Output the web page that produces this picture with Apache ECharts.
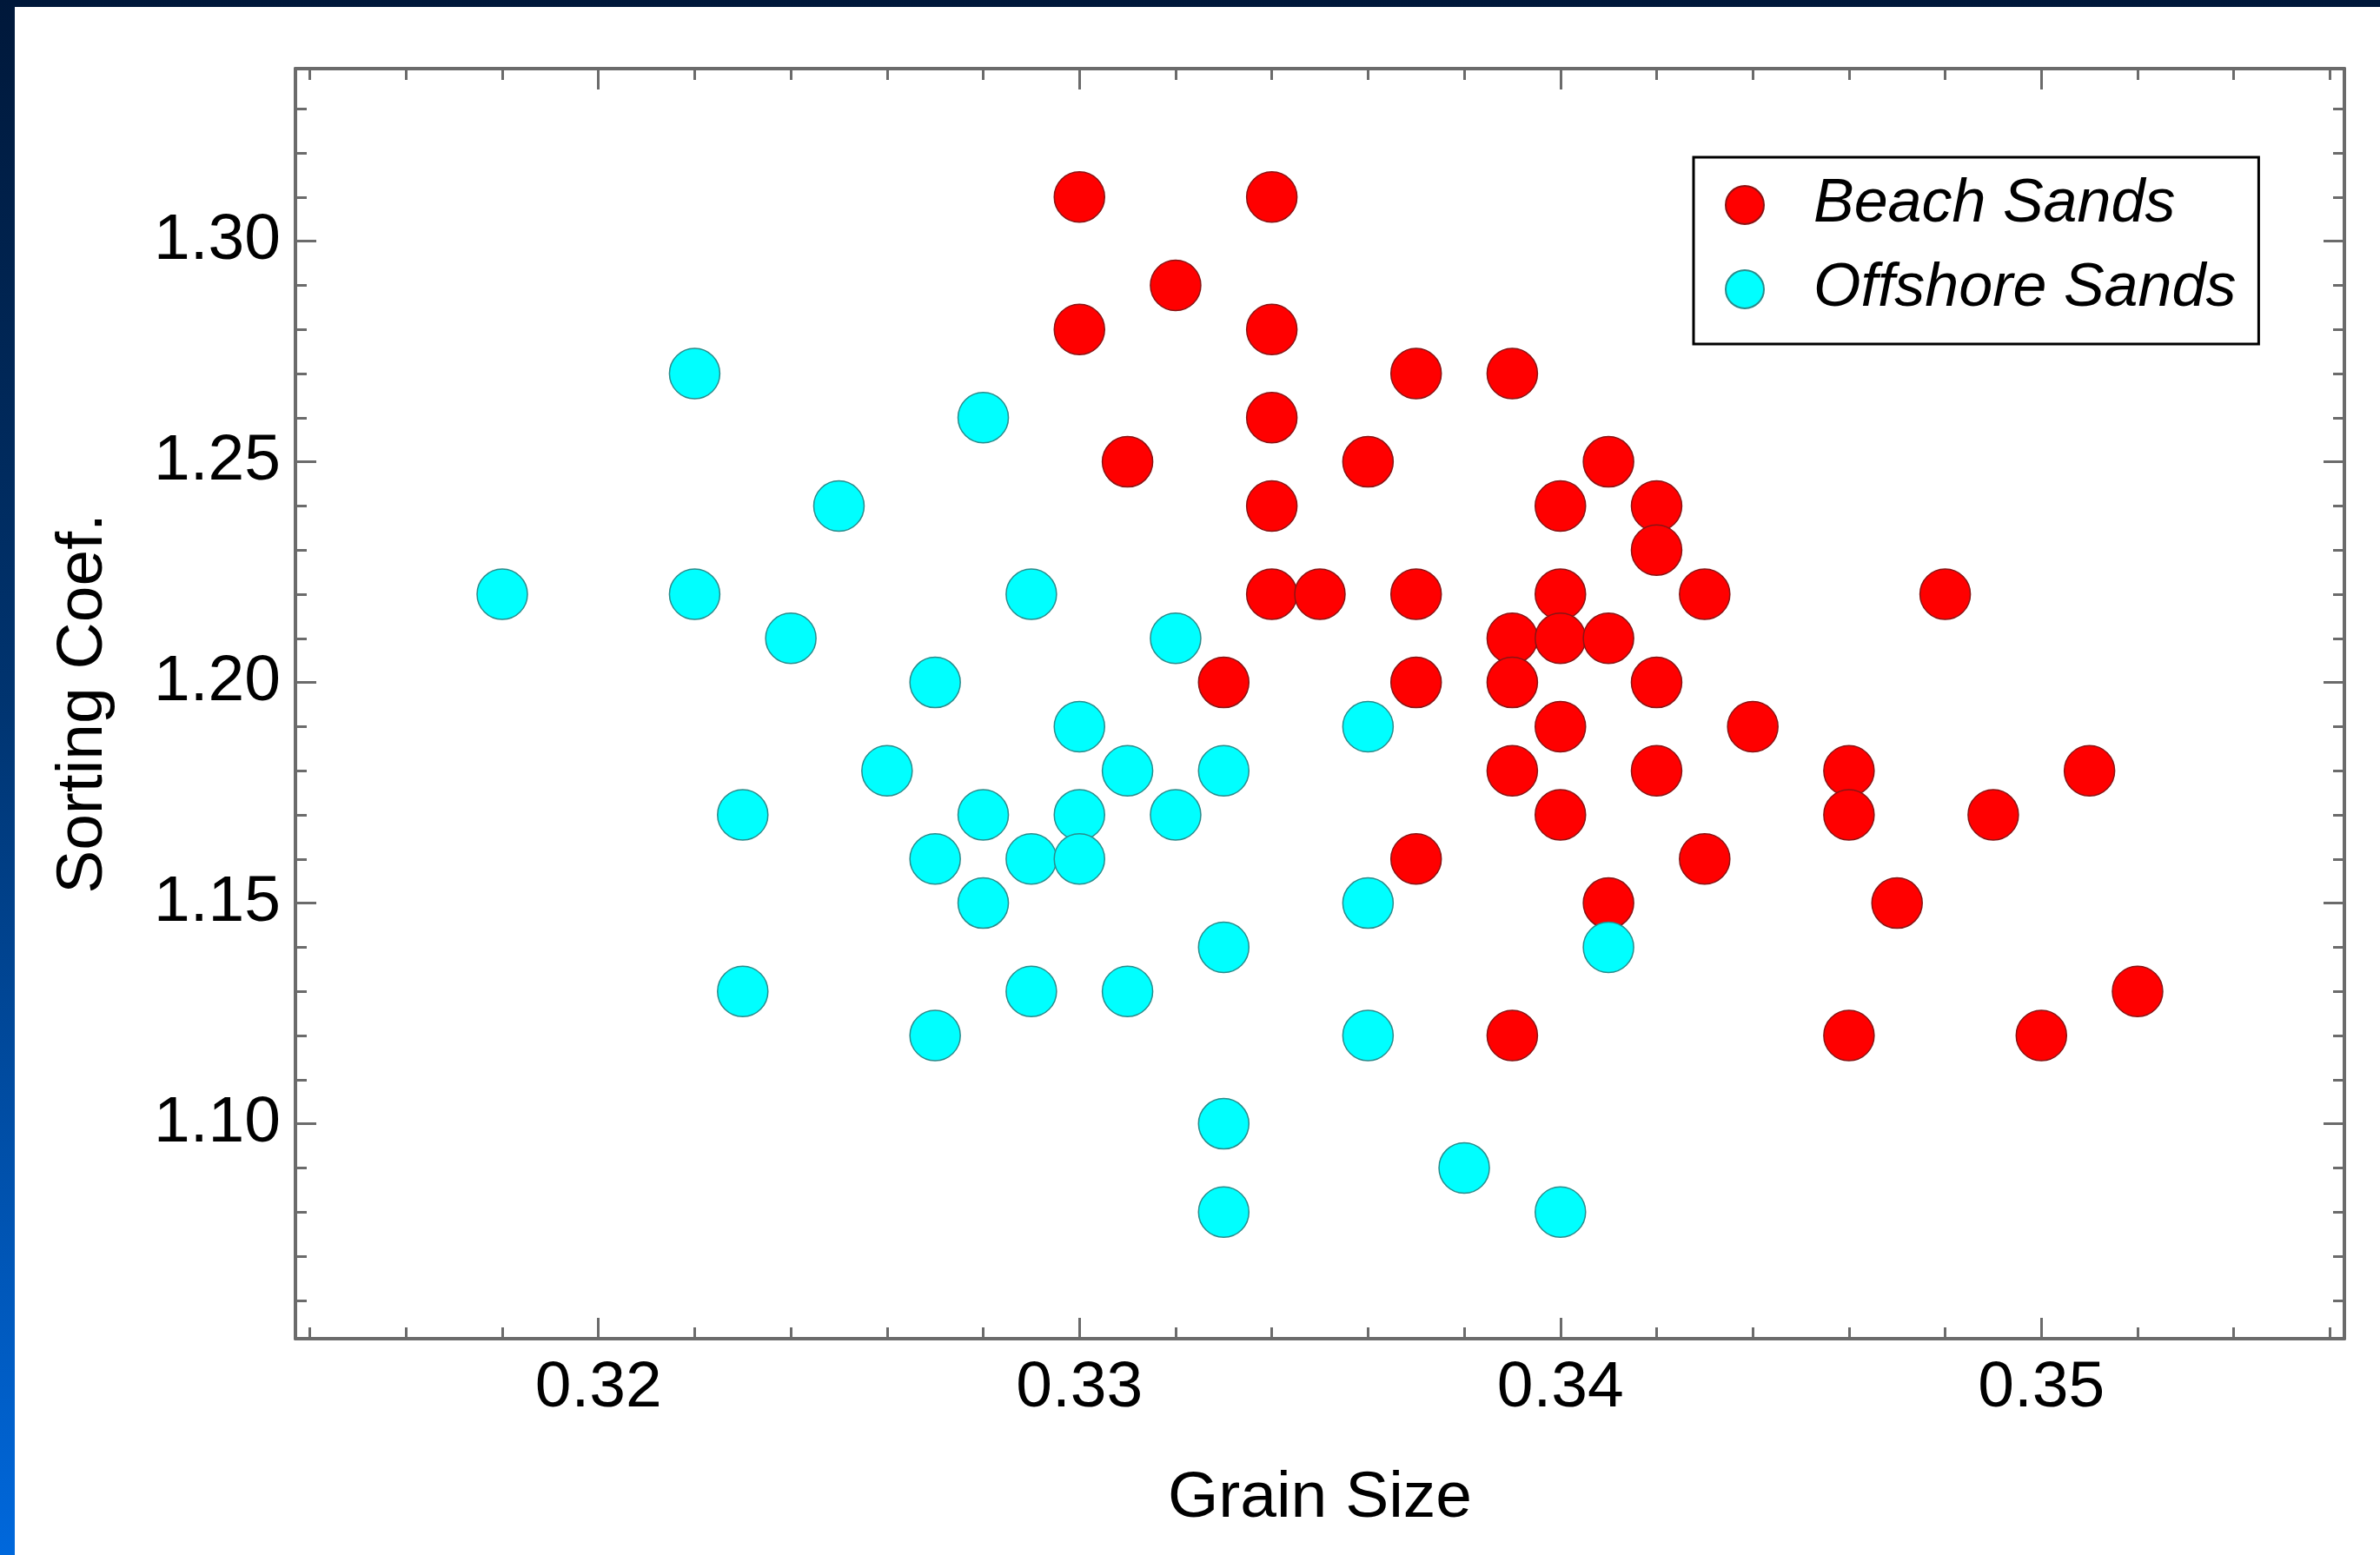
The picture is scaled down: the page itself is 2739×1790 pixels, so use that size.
<!DOCTYPE html>
<html>
<head>
<meta charset="utf-8">
<script src="https://cdn.jsdelivr.net/npm/echarts@6/dist/echarts.min.js"></script>
<style>
  html, body { margin: 0; padding: 0; width: 2739px; height: 1790px; overflow: hidden; }
  body { background: linear-gradient(180deg, #00183a 0%, #003470 45%, #0068dc 100%); position: relative; }
  #panel { position: absolute; left: 17px; top: 8px; right: 0; bottom: 0; background: #ffffff; }
  #chart { position: absolute; left: 0; top: 0; width: 2739px; height: 1790px; }
</style>
</head>
<body>
<div id="panel"></div>
<div id="chart"></div>
<script>
// Beach Sands (red)
const beachX = [0.330, 0.334, 0.332, 0.330, 0.334, 0.337, 0.339, 0.334, 0.331, 0.336, 0.341,
    0.334, 0.340, 0.342, 0.342, 0.334, 0.335, 0.337, 0.340, 0.343, 0.348, 0.339, 0.340, 0.341,
    0.333, 0.337, 0.339, 0.342, 0.340, 0.344, 0.339, 0.342, 0.346, 0.351, 0.340, 0.346, 0.349,
    0.337, 0.343, 0.341, 0.347, 0.352, 0.339, 0.346, 0.350];
const beachY = [1.31, 1.31, 1.29, 1.28, 1.28, 1.27, 1.27, 1.26, 1.25, 1.25, 1.25,
    1.24, 1.24, 1.24, 1.23, 1.22, 1.22, 1.22, 1.22, 1.22, 1.22, 1.21, 1.21, 1.21,
    1.20, 1.20, 1.20, 1.20, 1.19, 1.19, 1.18, 1.18, 1.18, 1.18, 1.17, 1.17, 1.17,
    1.16, 1.16, 1.15, 1.15, 1.13, 1.12, 1.12, 1.12];

// Offshore Sands (cyan)
const offshoreX = [0.322, 0.328, 0.325, 0.318, 0.322, 0.329, 0.324, 0.332, 0.327, 0.330,
    0.336, 0.326, 0.331, 0.333, 0.323, 0.328, 0.330, 0.332, 0.327, 0.329, 0.330, 0.328,
    0.336, 0.333, 0.341, 0.323, 0.329, 0.331, 0.327, 0.336, 0.333, 0.338, 0.333, 0.340];
const offshoreY = [1.27, 1.26, 1.24, 1.22, 1.22, 1.22, 1.21, 1.21, 1.20, 1.19,
    1.19, 1.18, 1.18, 1.18, 1.17, 1.17, 1.17, 1.17, 1.16, 1.16, 1.16, 1.15,
    1.15, 1.14, 1.14, 1.13, 1.13, 1.13, 1.12, 1.12, 1.10, 1.09, 1.08, 1.08];

// tick marks
const xMajorTicks = [0.32, 0.33, 0.34, 0.35];
const xMinorTicks = [0.314, 0.316, 0.318, 0.322, 0.324, 0.326, 0.328, 0.332, 0.334, 0.336, 0.338,
    0.342, 0.344, 0.346, 0.348, 0.352, 0.354, 0.356];
const yMajorTicks = [1.10, 1.15, 1.20, 1.25, 1.30];
const yMinorTicks = [1.06, 1.07, 1.08, 1.09, 1.11, 1.12, 1.13, 1.14, 1.16, 1.17, 1.18, 1.19,
    1.21, 1.22, 1.23, 1.24, 1.26, 1.27, 1.28, 1.29, 1.31, 1.32, 1.33];

const X_MIN = 0.3137, X_MAX = 0.3563;
const Y_MIN = 1.0513, Y_MAX = 1.3391;

const FONT = 'Liberation Sans';
const AXIS_COLOR = '#6b6b6b';

const chart = echarts.init(document.getElementById('chart'), null, { renderer: 'canvas' });

function frameAxis(position, min, max, ticks, len, opts = {}) {
    return Object.assign({
        type: 'value', position, min, max,
        axisLine: { show: !!opts.line, onZero: false, lineStyle: { color: AXIS_COLOR, width: 4 } },
        axisTick: { show: true, inside: true, length: len, customValues: ticks, lineStyle: { color: AXIS_COLOR, width: 3 } },
        axisLabel: { show: false },
        splitLine: { show: false }
    }, opts.extra || {});
}

const labelStyle = { color: '#000', fontSize: 75, fontFamily: FONT };

const xBottom = frameAxis('bottom', X_MIN, X_MAX, xMajorTicks, 24, {
    line: true,
    extra: {
        name: 'Grain Size', nameLocation: 'middle', nameGap: 147,
        nameTextStyle: labelStyle
    }
});
xBottom.axisLabel = Object.assign({ show: true, customValues: xMajorTicks, margin: 20, formatter: v => v.toFixed(2) }, labelStyle);

const yLeft = frameAxis('left', Y_MIN, Y_MAX, yMajorTicks, 24, {
    line: true,
    extra: {
        name: 'Sorting Coef.', nameLocation: 'middle', nameGap: 206,
        nameTextStyle: labelStyle
    }
});
yLeft.axisLabel = Object.assign({ show: true, customValues: yMajorTicks, margin: 17, formatter: v => v.toFixed(2) }, labelStyle);

const option = {
    animation: false,
    backgroundColor: 'transparent',
    grid: { left: 340, right: 41, top: 79, bottom: 249, containLabel: false },
    legend: {
        orient: 'vertical', left: 1949, top: 181,
        backgroundColor: '#fff', borderColor: '#000', borderWidth: 3,
        padding: [20, 26, 28, 36],
        itemWidth: 44, itemHeight: 44, itemGap: 27, icon: 'circle',
        textStyle: { color: '#000', fontSize: 70, fontStyle: 'italic', fontFamily: FONT, padding: [0, 0, 0, 52] },
        data: ['Beach Sands', 'Offshore Sands']
    },
    xAxis: [
        xBottom,
        frameAxis('bottom', X_MIN, X_MAX, xMinorTicks, 13),
        frameAxis('top', X_MIN, X_MAX, xMajorTicks, 24, { line: true }),
        frameAxis('top', X_MIN, X_MAX, xMinorTicks, 13)
    ],
    yAxis: [
        yLeft,
        frameAxis('left', Y_MIN, Y_MAX, yMinorTicks, 13),
        frameAxis('right', Y_MIN, Y_MAX, yMajorTicks, 24, { line: true }),
        frameAxis('right', Y_MIN, Y_MAX, yMinorTicks, 13)
    ],
    series: [
        {
            name: 'Beach Sands', type: 'scatter', xAxisIndex: 0, yAxisIndex: 0,
            symbol: 'circle', symbolSize: 58,
            itemStyle: { color: '#ff0000', borderColor: '#8a1414', borderWidth: 1.5, opacity: 1 },
            data: beachX.map((x, i) => [x, beachY[i]])
        },
        {
            name: 'Offshore Sands', type: 'scatter', xAxisIndex: 0, yAxisIndex: 0,
            symbol: 'circle', symbolSize: 58,
            itemStyle: { color: '#00ffff', borderColor: '#2a8c8c', borderWidth: 1.5, opacity: 1 },
            data: offshoreX.map((x, i) => [x, offshoreY[i]])
        }
    ]
};

chart.setOption(option);
window.addEventListener('resize', () => chart.resize());
</script>
</body>
</html>
